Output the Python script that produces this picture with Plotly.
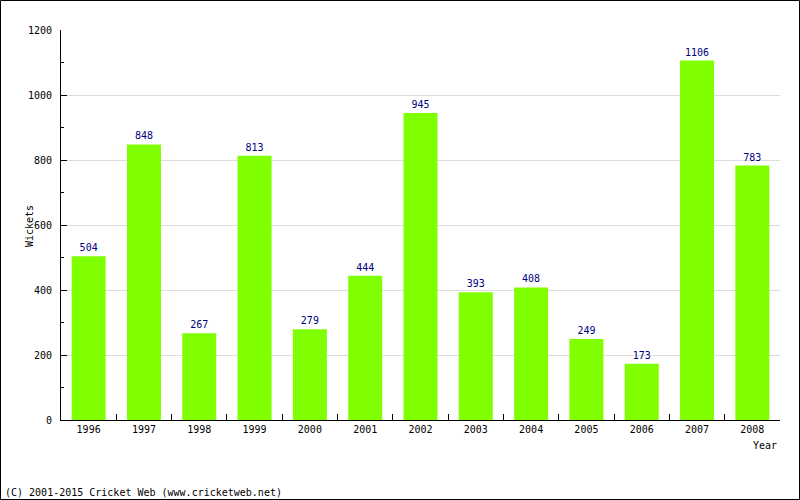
import plotly.graph_objects as go

years = ["1996", "1997", "1998", "1999", "2000", "2001", "2002", "2003", "2004", "2005", "2006", "2007", "2008"]
wickets = [504, 848, 267, 813, 279, 444, 945, 393, 408, 249, 173, 1106, 783]

W, H = 800, 500
L, R, T, B = 61, 20, 30, 80
pw, ph = W - L - R, H - T - B

def px(x):
    return (x - L) / pw

def py(y):
    return (H - B - y) / ph

FONT = "DejaVu Sans Mono"

fig = go.Figure(go.Bar(
    x=years, y=wickets,
    marker=dict(color="#80FF00", line=dict(width=0)),
    text=[str(v) for v in wickets], textposition="outside",
    textfont=dict(family=FONT, size=10, color="#000080"),
    cliponaxis=False,
))

fig.update_layout(
    width=W, height=H,
    margin=dict(l=L, r=R, t=T, b=B, pad=0),
    paper_bgcolor="white", plot_bgcolor="white",
    bargap=0.385,
    showlegend=False,
    font=dict(family=FONT, size=10, color="black"),
    xaxis=dict(
        type="category", range=[-0.5, 12.5],
        showline=True, linecolor="black", linewidth=1,
        ticks="inside", tickson="boundaries", ticklen=6, tickcolor="black",
        showgrid=False, tickfont=dict(family=FONT, size=10, color="black"),
    ),
    yaxis=dict(
        range=[0, 1200], dtick=200, tick0=0,
        showline=True, linecolor="black", linewidth=1,
        ticks="inside", ticklen=6, tickcolor="black",
        showgrid=True, gridcolor="#dddddd", gridwidth=1,
        zeroline=False,
        minor=dict(dtick=100, ticks="inside", ticklen=3, tickcolor="black", showgrid=False),
        tickfont=dict(family=FONT, size=10, color="black"),
        ticklabelstandoff=6,
    ),
    annotations=[
        dict(text="Year", xref="paper", yref="paper", x=px(779), y=py(445),
             xanchor="right", yanchor="middle", showarrow=False,
             font=dict(family=FONT, size=10, color="black")),
        dict(text="Wickets", xref="paper", yref="paper", x=px(29), y=py(226),
             xanchor="center", yanchor="middle", textangle=-90, showarrow=False,
             font=dict(family=FONT, size=10, color="black")),
        dict(text="(C) 2001-2015 Cricket Web (www.cricketweb.net)", xref="paper", yref="paper",
             x=px(3), y=py(492), xanchor="left", yanchor="middle", showarrow=False,
             font=dict(family=FONT, size=10, color="black")),
    ],
    shapes=[
        dict(type="rect", xref="paper", yref="paper",
             x0=px(0.5), x1=px(799.5), y0=py(499.5), y1=py(0.5),
             line=dict(color="black", width=1), fillcolor="rgba(0,0,0,0)", layer="above"),
    ],
)

fig.write_html("out.html", config={"displayModeBar": False},
               post_script="document.body.style.margin='0px';document.body.style.overflow='hidden';")
